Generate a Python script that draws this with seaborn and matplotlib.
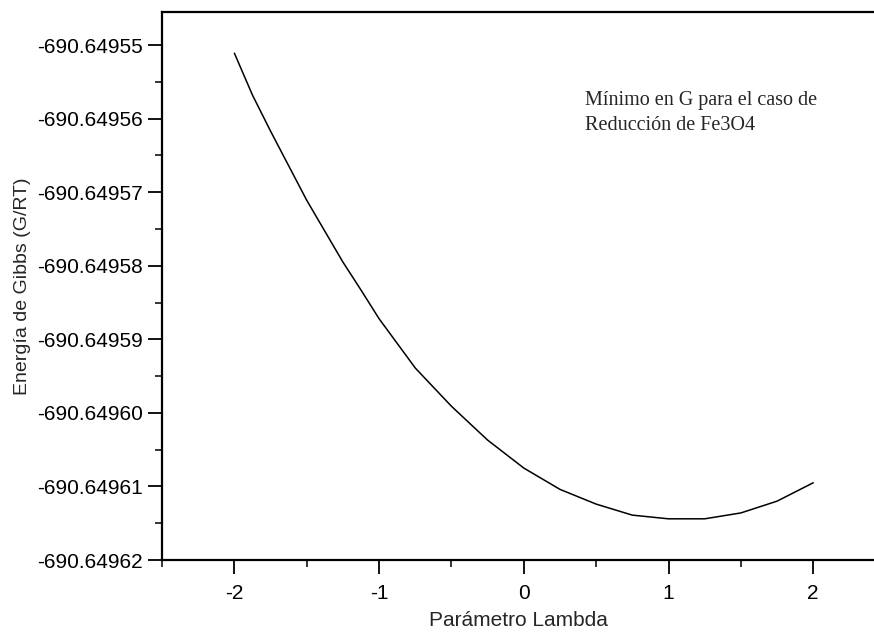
import numpy as np
import pandas as pd
import matplotlib
matplotlib.use("Agg")
import matplotlib.pyplot as plt
import seaborn as sns
from matplotlib.ticker import FormatStrFormatter, MultipleLocator

# --- values ---
lam = [-2.000, -1.875, -1.750, -1.625, -1.500, -1.375, -1.250, -1.125, -1.000,
       -0.75, -0.50, -0.25, 0.00, 0.25, 0.50, 0.75, 1.00, 1.25, 1.50, 1.75, 2.00]
gibbs = [-690.6495511, -690.6495568, -690.6495617, -690.6495664, -690.6495711,
         -690.6495753, -690.6495795, -690.6495833, -690.6495872,
         -690.6495939, -690.6495991, -690.6496037, -690.6496075, -690.6496104,
         -690.6496124, -690.6496139, -690.6496144, -690.6496144, -690.6496136,
         -690.6496120, -690.6496095]
y_ticks = [-690.64962, -690.64961, -690.64960, -690.64959, -690.64958,
           -690.64957, -690.64956, -690.64955]
x_ticks = [-2, -1, 0, 1, 2]
note = "Mínimo en G para el caso de\nReducción de Fe3O4"

df = pd.DataFrame({"lambda": lam, "G": gibbs})

sns.set_style("ticks")
plt.rcParams["font.family"] = ["Liberation Sans", "DejaVu Sans"]
plt.rcParams["axes.unicode_minus"] = False

fig = plt.figure(figsize=(8.74, 6.35), dpi=100)
ax = fig.add_axes([0.1854, 0.1181, 0.8146, 0.8630])

sns.lineplot(data=df, x="lambda", y="G", color="black", linewidth=1.1, ax=ax)

ax.set_xlim(-2.5, 2.42)
ax.set_ylim(-690.64962, -690.6495455)
ax.set_xticks(x_ticks)
ax.set_yticks(y_ticks)
ax.xaxis.set_minor_locator(MultipleLocator(0.5))
ax.yaxis.set_minor_locator(MultipleLocator(0.000005))
ax.yaxis.set_major_formatter(FormatStrFormatter("%.5f"))

ax.tick_params(axis="both", which="major", direction="out", length=10, width=1.3,
               labelsize=15, color="black", labelcolor="black")
ax.tick_params(axis="both", which="minor", direction="out", length=5, width=1.1,
               color="black")
ax.tick_params(axis="x", pad=7)
ax.tick_params(axis="y", pad=4)

ax.spines["right"].set_visible(False)
for s in ["left", "bottom", "top"]:
    ax.spines[s].set_linewidth(1.6)
    ax.spines[s].set_color("black")

ax.set_xlabel("Parámetro Lambda", fontsize=15, labelpad=6)
ax.set_ylabel("Energía de Gibbs (G/RT)", fontsize=14, labelpad=4)

ax.text(0.42, -690.6495563, note, fontsize=14.5, va="top", ha="left",
        family=["Liberation Serif", "DejaVu Serif"], linespacing=1.4)

fig.savefig("out.png", dpi=100)
